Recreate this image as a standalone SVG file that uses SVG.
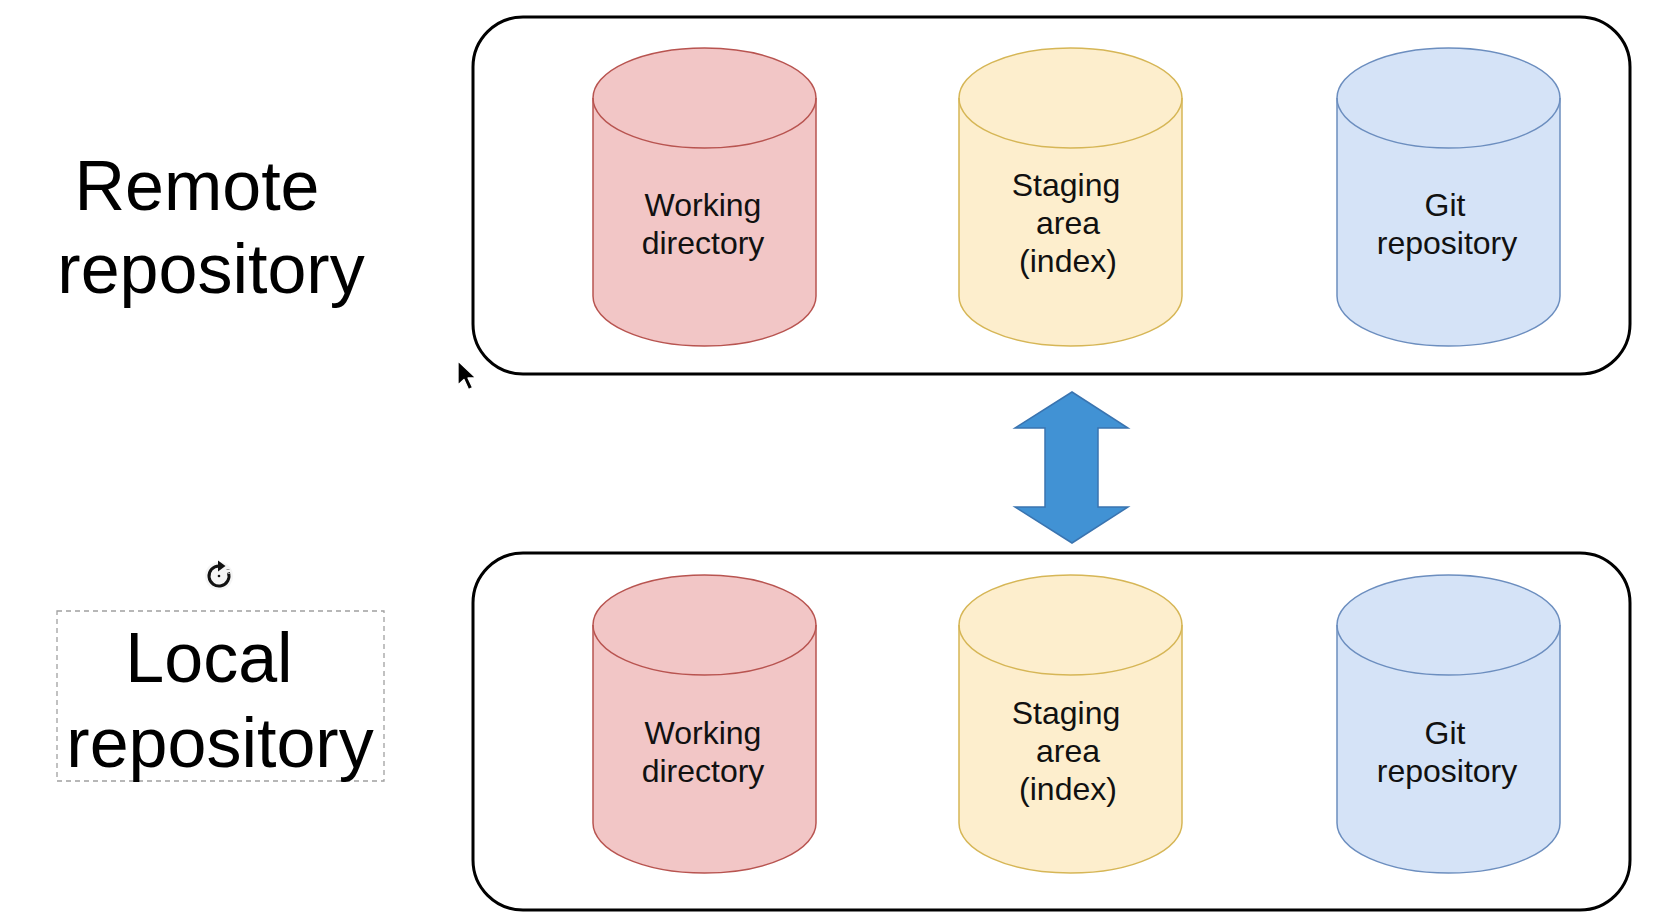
<svg xmlns="http://www.w3.org/2000/svg" width="1654" height="920" viewBox="0 0 1654 920">
<style>
  .box { fill: #ffffff; stroke: #000000; stroke-width: 3; }
  .red { fill: #f2c6c6; stroke: #b85450; stroke-width: 1.5; }
  .yellow { fill: #fdeecd; stroke: #d6b656; stroke-width: 1.5; }
  .blue { fill: #d5e3f7; stroke: #6c8ebf; stroke-width: 1.5; }
  .rim { fill: none; }
  .lbl { font-family: "Liberation Sans", Arial, sans-serif; font-size: 32px; fill: #111111; text-anchor: middle; }
  .big { font-family: "Liberation Sans", Arial, sans-serif; font-size: 70px; fill: #000000; text-anchor: middle; }
</style>
<rect width="1654" height="920" fill="#ffffff"/>

<g id="remote-label">
  <text class="big" x="197" y="210">Remote</text>
  <text class="big" x="211" y="293">repository</text>
</g>

<g id="local-label">
  <rect x="57" y="611" width="327" height="170" fill="none" stroke="#a0a0a0" stroke-width="1.3" stroke-dasharray="5 4"/>
  <text class="big" x="209" y="682">Local</text>
  <text class="big" x="220" y="767">repository</text>
</g>

<g id="rotate-icon">
  <circle cx="219" cy="576" r="14" fill="#eeeeee" opacity="0.6"/>
  <path d="M 219 566 A 10 10 0 1 0 228.4 572.6" fill="none" stroke="#111111" stroke-width="3"/>
  <path d="M 218 560.5 L 225.5 566 L 218 571.5 Z" fill="#111111"/>
  <circle cx="219" cy="576" r="1.3" fill="#111111"/>
  <path d="M 226.5 569.5 L 229.5 569.5 M 227.5 573.5 L 230 573.5" stroke="#999999" stroke-width="1.2"/>
</g>

<g id="cursor">
  <path d="M 458 361 L 458 385 L 464 379.5 L 468.5 389.5 L 472.5 387.5 L 468 378 L 476 378 Z" fill="#000000" stroke="#ffffff" stroke-width="1.3" stroke-linejoin="round"/>
</g>

<g id="remote-repo">
  <rect class="box" x="473" y="17" width="1157" height="357" rx="50" ry="50"/>
</g>

<g id="remote-working">
  <path class="red" d="M 593 98 A 111.5 50 0 0 1 816 98 V 296 A 111.5 50 0 0 1 593 296 Z"/>
  <path class="red rim" d="M 593 98 A 111.5 50 0 0 0 816 98"/>
  <text class="lbl" x="703" y="216">Working</text>
  <text class="lbl" x="703" y="254">directory</text>
</g>

<g id="remote-staging">
  <path class="yellow" d="M 959 98 A 111.5 50 0 0 1 1182 98 V 296 A 111.5 50 0 0 1 959 296 Z"/>
  <path class="yellow rim" d="M 959 98 A 111.5 50 0 0 0 1182 98"/>
  <text class="lbl" x="1066" y="196">Staging</text>
  <text class="lbl" x="1068" y="234">area</text>
  <text class="lbl" x="1068" y="272">(index)</text>
</g>

<g id="remote-git">
  <path class="blue" d="M 1337 98 A 111.5 50 0 0 1 1560 98 V 296 A 111.5 50 0 0 1 1337 296 Z"/>
  <path class="blue rim" d="M 1337 98 A 111.5 50 0 0 0 1560 98"/>
  <text class="lbl" x="1445" y="216">Git</text>
  <text class="lbl" x="1447" y="254">repository</text>
</g>

<g id="local-repo">
  <rect class="box" x="473" y="553" width="1157" height="357" rx="50" ry="50"/>
</g>

<g id="local-working">
  <path class="red" d="M 593 625 A 111.5 50 0 0 1 816 625 V 823 A 111.5 50 0 0 1 593 823 Z"/>
  <path class="red rim" d="M 593 625 A 111.5 50 0 0 0 816 625"/>
  <text class="lbl" x="703" y="744">Working</text>
  <text class="lbl" x="703" y="782">directory</text>
</g>

<g id="local-staging">
  <path class="yellow" d="M 959 625 A 111.5 50 0 0 1 1182 625 V 823 A 111.5 50 0 0 1 959 823 Z"/>
  <path class="yellow rim" d="M 959 625 A 111.5 50 0 0 0 1182 625"/>
  <text class="lbl" x="1066" y="724">Staging</text>
  <text class="lbl" x="1068" y="762">area</text>
  <text class="lbl" x="1068" y="800">(index)</text>
</g>

<g id="local-git">
  <path class="blue" d="M 1337 625 A 111.5 50 0 0 1 1560 625 V 823 A 111.5 50 0 0 1 1337 823 Z"/>
  <path class="blue rim" d="M 1337 625 A 111.5 50 0 0 0 1560 625"/>
  <text class="lbl" x="1445" y="744">Git</text>
  <text class="lbl" x="1447" y="782">repository</text>
</g>

<g id="connectors">
  <path d="M 1072 392 L 1128 428 L 1098 428 L 1098 507 L 1128 507 L 1072 543 L 1015 507 L 1045 507 L 1045 428 L 1015 428 Z" fill="#4192d4" stroke="#3a74b0" stroke-width="1.5" stroke-linejoin="miter"/>
</g>
</svg>
